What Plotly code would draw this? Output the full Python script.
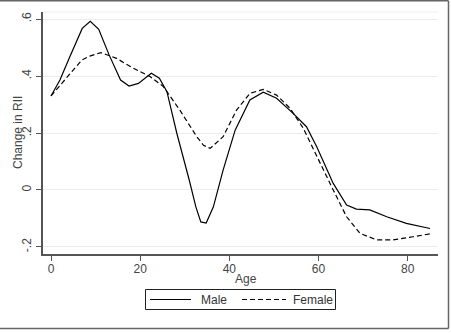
import plotly.graph_objects as go

male_age = [0, 2, 4, 7, 8.8, 10.7, 13, 15.6, 17.5, 19.6, 22.5, 24.3, 26, 28.2, 31, 32.5, 33.6, 34.8, 36.4, 38.6, 41.3, 44.6, 47.6, 50.6, 54.3, 57.3, 59.6, 63.3, 66.3, 68.5, 71.5, 75.3, 79.7, 85]
male = [0.33, 0.386, 0.46, 0.567, 0.592, 0.564, 0.475, 0.386, 0.365, 0.374, 0.41, 0.392, 0.345, 0.2, 0.035, -0.06, -0.112, -0.116, -0.06, 0.07, 0.21, 0.316, 0.343, 0.322, 0.269, 0.222, 0.152, 0.023, -0.053, -0.067, -0.07, -0.094, -0.117, -0.135]

female_age = [0, 3.5, 6.9, 8.7, 11.2, 14.7, 18.5, 22.2, 25.2, 28.9, 32.7, 34.2, 35.7, 38.6, 41.6, 44.6, 47.6, 50.6, 53.6, 56.6, 59.6, 63.3, 66.3, 69.3, 73, 76.7, 81.2, 85]
female = [0.33, 0.392, 0.456, 0.47, 0.482, 0.462, 0.427, 0.398, 0.363, 0.28, 0.187, 0.157, 0.146, 0.187, 0.28, 0.339, 0.353, 0.333, 0.287, 0.216, 0.117, 0.0, -0.094, -0.152, -0.175, -0.175, -0.164, -0.154]

x_ticks = [0, 20, 40, 60, 80]
y_ticks = [-0.2, 0, 0.2, 0.4, 0.6]
y_ticklabels = ["-.2", "0", ".2", ".4", ".6"]
series_names = ["Male", "Female"]
x_title = "Age"
y_title = "Change in RII"

FONT = "Liberation Sans, Arial, sans-serif"
DASH = "5px,3px"

fig = go.Figure()
fig.add_trace(go.Scatter(x=male_age, y=male, mode="lines", name=series_names[0],
                         line=dict(color="black", width=1.2)))
fig.add_trace(go.Scatter(x=female_age, y=female, mode="lines", name=series_names[1],
                         line=dict(color="black", width=1.2, dash=DASH)))

L, R, T, B = 43, 13, 12, 79
W, H = 451, 333
pw, ph = W - L - R, H - T - B

def px2paper_x(p):
    return (p - L) / pw

def px2paper_y(p):
    return (H - B - p) / ph

fig.update_layout(
    width=W, height=H,
    margin=dict(l=L, r=R, t=T, b=B),
    paper_bgcolor="white", plot_bgcolor="white",
    font=dict(family=FONT, size=11, color="#333"),
    showlegend=False,
    xaxis=dict(range=[-1.8, 86.8], tickvals=x_ticks, showgrid=False,
               zeroline=False, showline=True, linecolor="#555", linewidth=1.5,
               ticks="outside", ticklen=5, tickcolor="#555", tickwidth=1,
               ticklabelstandoff=-2,
               tickfont=dict(size=12, color="#444")),
    yaxis=dict(range=[-0.2246, 0.6246], tickvals=y_ticks, ticktext=y_ticklabels,
               tickangle=-90, showgrid=True, gridcolor="#ececec", gridwidth=1,
               zeroline=False, showline=True, linecolor="#555", linewidth=1.5,
               ticks="outside", ticklen=5, tickcolor="#555", tickwidth=1,
               tickfont=dict(size=12, color="#444")),
)

# axis titles
fig.add_annotation(xref="paper", yref="paper", x=px2paper_x(246), y=px2paper_y(279),
                   text=x_title, showarrow=False, xanchor="center", yanchor="middle",
                   font=dict(size=12, color="#444"))
fig.add_annotation(xref="paper", yref="paper", x=px2paper_x(18), y=0.5,
                   text=y_title, showarrow=False, xanchor="center", yanchor="middle",
                   textangle=-90, font=dict(size=12, color="#444"))

# faint top edge of plot region
fig.add_shape(type="line", xref="paper", yref="paper", x0=0, x1=1, y0=1, y1=1,
              line=dict(color="#eeeeee", width=1))
# outer frame (top, right, bottom)
frame = dict(color="#666", width=1.5)
fig.add_shape(type="line", xref="paper", yref="paper",
              x0=px2paper_x(0), x1=px2paper_x(448.5), y0=px2paper_y(0.8), y1=px2paper_y(0.8), line=frame)
fig.add_shape(type="line", xref="paper", yref="paper",
              x0=px2paper_x(448.5), x1=px2paper_x(448.5), y0=px2paper_y(0.8), y1=px2paper_y(328.5), line=frame)
fig.add_shape(type="line", xref="paper", yref="paper",
              x0=px2paper_x(0), x1=px2paper_x(448.5), y0=px2paper_y(328.5), y1=px2paper_y(328.5), line=frame)

# legend box drawn as layout decoration
fig.add_shape(type="rect", xref="paper", yref="paper",
              x0=px2paper_x(145.5), x1=px2paper_x(335.5), y0=px2paper_y(309.5), y1=px2paper_y(289.5),
              line=dict(color="#222", width=1), fillcolor="white")
ly = px2paper_y(299.5)
fig.add_shape(type="line", xref="paper", yref="paper",
              x0=px2paper_x(150), x1=px2paper_x(191), y0=ly, y1=ly,
              line=dict(color="black", width=1.2))
fig.add_shape(type="line", xref="paper", yref="paper",
              x0=px2paper_x(242), x1=px2paper_x(286), y0=ly, y1=ly,
              line=dict(color="black", width=1.2, dash=DASH))
fig.add_annotation(xref="paper", yref="paper", x=px2paper_x(199), y=ly,
                   text=series_names[0], showarrow=False, xanchor="left", yanchor="middle",
                   font=dict(size=12, color="#333"))
fig.add_annotation(xref="paper", yref="paper", x=px2paper_x(291), y=ly,
                   text=series_names[1], showarrow=False, xanchor="left", yanchor="middle",
                   font=dict(size=12, color="#333"))

fig.write_html("out.html")
